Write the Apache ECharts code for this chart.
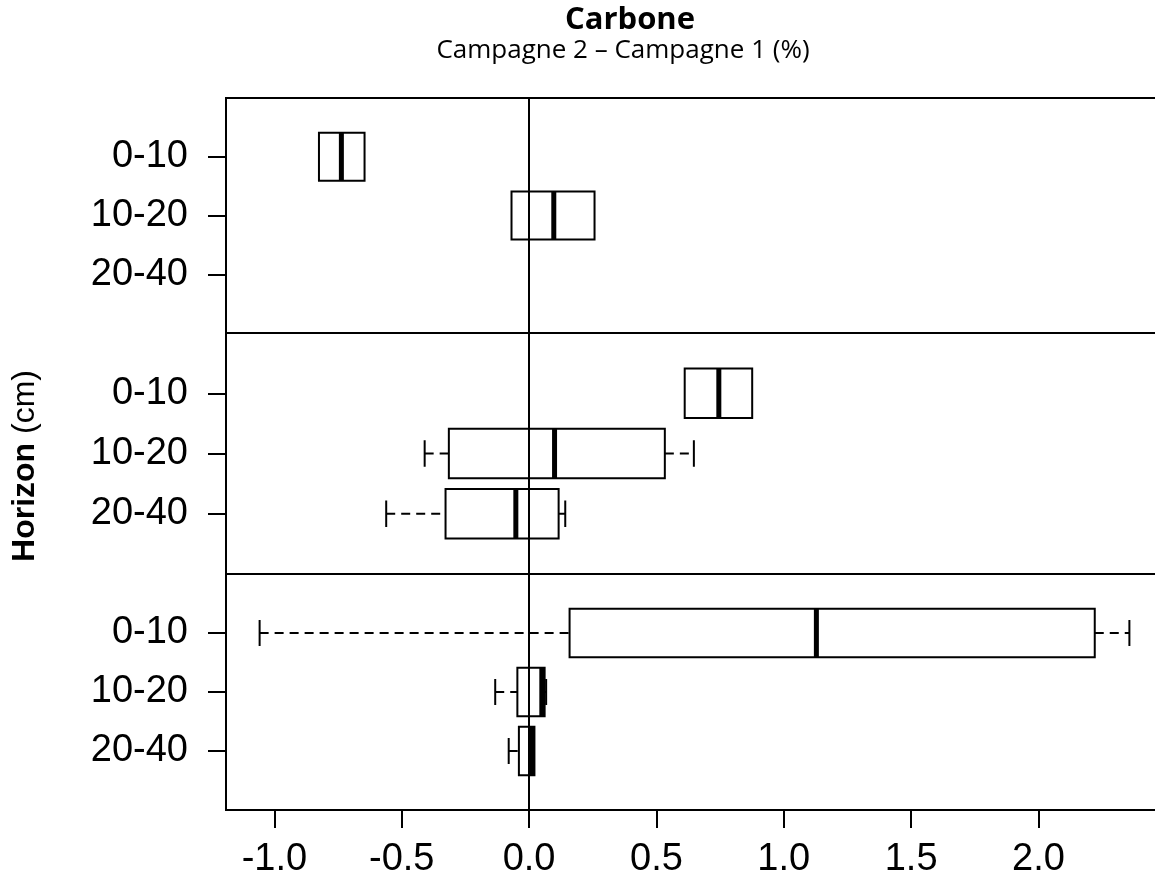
<!DOCTYPE html>
<html>
<head>
<meta charset="utf-8">
<script src="https://cdn.jsdelivr.net/npm/echarts@6/dist/echarts.min.js"></script>
<style>html,body{margin:0;padding:0;background:#fff}#c{width:1155px;height:881px}</style>
</head>
<body>
<div id="c"></div>
<script>
// Tick labels
const horizons = ['0-10', '10-20', '20-40'];
const xTicks = [-1.0, -0.5, 0.0, 0.5, 1.0, 1.5, 2.0];
// Box stats per panel: [horizon row (1..3), low whisker, Q1, median, Q3, high whisker]
const panel1 = [
  [1, -0.825, -0.825, -0.737, -0.646, -0.646],
  [2, -0.069, -0.069, 0.097, 0.257, 0.257]
];
const panel2 = [
  [1, 0.611, 0.611, 0.745, 0.876, 0.876],
  [2, -0.410, -0.315, 0.100, 0.533, 0.647],
  [3, -0.561, -0.328, -0.052, 0.116, 0.142]
];
const panel3 = [
  [1, -1.058, 0.159, 1.128, 2.221, 2.357],
  [2, -0.133, -0.046, 0.050, 0.061, 0.067],
  [3, -0.080, -0.040, 0.010, 0.021, 0.021]
];
const panels = [panel1, panel2, panel3];

const grids = [
  {top: 98, height: 235},
  {top: 333, height: 241},
  {top: 574, height: 236}
].map(g => Object.assign(g, {left: 226, right: -21, show: true, borderColor: '#000', borderWidth: 2,
  backgroundColor: 'transparent', containLabel: false, outerBoundsMode: 'none'}));

const XMIN = -1.19, XMAX = 2.54;
const labelFont = 'Liberation Sans, Arial, sans-serif';

const xAxes = [0, 1, 2].map(i => ({
  type: 'value', gridIndex: i, min: XMIN, max: XMAX, position: 'bottom',
  axisLine: {show: false, onZero: false},
  splitLine: {show: false},
  axisTick: {show: i === 2, customValues: xTicks, length: 18, lineStyle: {color: '#000', width: 2}},
  axisLabel: {show: i === 2, customValues: xTicks, margin: 31, fontSize: 38, color: '#000', fontFamily: labelFont,
    formatter: v => v.toFixed(1)}
}));

const yAxes = [0, 1, 2].map(i => ({
  type: 'value', gridIndex: i, min: 0, max: 4, inverse: true, position: 'left',
  axisLine: {show: false, onZero: false},
  splitLine: {show: false},
  axisTick: {show: true, customValues: [1, 2, 3], length: 18, lineStyle: {color: '#000', width: 2}},
  axisLabel: {show: true, customValues: [1, 2, 3], margin: 38, fontSize: 38, color: '#000', fontFamily: labelFont,
    formatter: v => horizons[Math.round(v) - 1]}
}));

function renderBox(params, api) {
  const row = api.value(0);
  const lo = api.value(1), q1 = api.value(2), med = api.value(3), q3 = api.value(4), hi = api.value(5);
  const unit = api.size([0, 1])[1];
  const bh = unit * 0.82, ch = unit * 0.44;
  const pLo = api.coord([lo, row]), pQ1 = api.coord([q1, row]), pMed = api.coord([med, row]);
  const pQ3 = api.coord([q3, row]), pHi = api.coord([hi, row]);
  const y = pMed[1];
  const children = [];
  const dash = {stroke: '#000', lineWidth: 2, lineDash: [9, 6]};
  const solid = {stroke: '#000', lineWidth: 2};
  if (pQ1[0] - pLo[0] > 0.5) {
    children.push({type: 'line', shape: {x1: pLo[0], y1: y, x2: pQ1[0], y2: y}, style: dash});
    children.push({type: 'line', shape: {x1: pLo[0], y1: y - ch / 2, x2: pLo[0], y2: y + ch / 2}, style: solid});
  }
  if (pHi[0] - pQ3[0] > 0.5) {
    children.push({type: 'line', shape: {x1: pQ3[0], y1: y, x2: pHi[0], y2: y}, style: dash});
    children.push({type: 'line', shape: {x1: pHi[0], y1: y - ch / 2, x2: pHi[0], y2: y + ch / 2}, style: solid});
  }
  children.push({type: 'rect', shape: {x: pQ1[0], y: y - bh / 2, width: pQ3[0] - pQ1[0], height: bh},
    style: {fill: 'transparent', stroke: '#000', lineWidth: 2}});
  children.push({type: 'line', shape: {x1: pMed[0], y1: y - bh / 2, x2: pMed[0], y2: y + bh / 2},
    style: {stroke: '#000', lineWidth: 5}});
  return {type: 'group', children: children};
}

const series = panels.map((d, i) => ({
  type: 'custom', xAxisIndex: i, yAxisIndex: i, data: d,
  renderItem: renderBox, silent: true, clip: false,
  encode: {x: [1, 2, 3, 4, 5], y: 0},
  markLine: {silent: true, symbol: 'none', animation: false, label: {show: false},
    lineStyle: {color: '#000', width: 2, type: 'solid'}, data: [{xAxis: 0}]}
}));

const chart = echarts.init(document.getElementById('c'), null, {renderer: 'canvas'});
chart.setOption({
  animation: false,
  backgroundColor: '#fff',
  title: [
    {text: 'Carbone', left: 630, top: 5, textAlign: 'center', padding: 0,
      textStyle: {fontFamily: 'Open Sans, Noto Sans, sans-serif', fontWeight: 'bold', fontSize: 31, color: '#000'}},
    {text: 'Campagne 2 – Campagne 1 (%)', left: 623, top: 38, textAlign: 'center', padding: 0,
      textStyle: {fontFamily: 'Open Sans, Noto Sans, sans-serif', fontWeight: 'normal', fontSize: 26, color: '#000'}}
  ],
  grid: grids,
  xAxis: xAxes,
  yAxis: yAxes,
  series: series,
  graphic: [{
    type: 'text', x: 25, y: 466, rotation: Math.PI / 2,
    style: {
      text: '{b|Horizon}{n| (cm)}', align: 'center', verticalAlign: 'middle',
      rich: {
        b: {fontFamily: labelFont, fontWeight: 'bold', fontSize: 32, fill: '#000'},
        n: {fontFamily: labelFont, fontWeight: 'normal', fontSize: 32, fill: '#000'}
      }
    }
  }]
});
</script>
</body>
</html>
